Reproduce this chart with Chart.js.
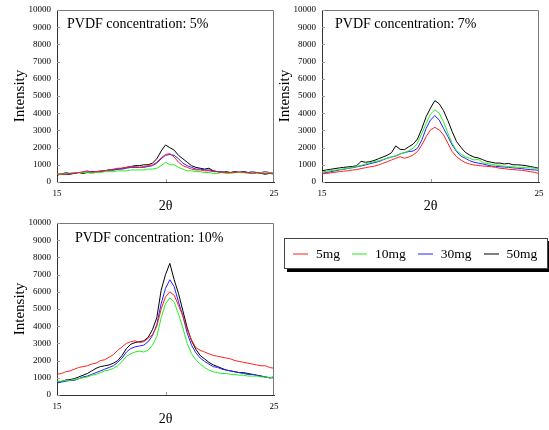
<!DOCTYPE html>
<html lang="en">

<head>
    <meta charset="UTF-8">
    <title>PVDF XRD</title>
    <script src="https://cdn.jsdelivr.net/npm/chart.js@4.4.1/dist/chart.umd.min.js"></script>
    <style>
        body { margin: 0; background: #fff; width: 549px; height: 430px; position: relative; overflow: hidden; }
        canvas { position: absolute; }
        #legend {
            position: absolute; left: 284px; top: 238px; width: 262px; height: 29px;
            border: 1px solid #444; box-shadow: 3px 3px 0 #000; background: #fff;
            font: 13.5px "Liberation Serif", serif; display: flex; align-items: center;
        }
        #legend .item { display: flex; align-items: center; margin-left: 12px; }
        #legend .item:first-child { margin-left: 8px; }
        #legend .swatch { width: 15px; height: 2px; margin-right: 8px; }
    </style>
</head>

<body>
    <canvas id="c5" width="282" height="216" style="left:0px;top:0px"></canvas>
    <canvas id="c7" width="282" height="216" style="left:265px;top:0px"></canvas>
    <canvas id="c10" width="282" height="216" style="left:0px;top:213px"></canvas>
    <div id="legend"></div>
</body>

<script>
    // 2theta positions (degrees)
    const theta = [15.0, 15.2, 15.4, 15.6, 15.8, 16.0, 16.2, 16.4, 16.6, 16.8,
        17.0, 17.2, 17.4, 17.6, 17.8, 18.0, 18.2, 18.4, 18.6, 18.8,
        19.0, 19.2, 19.4, 19.6, 19.8, 20.0, 20.2, 20.4, 20.6, 20.8,
        21.0, 21.2, 21.4, 21.6, 21.8, 22.0, 22.2, 22.4, 22.6, 22.8,
        23.0, 23.2, 23.4, 23.6, 23.8, 24.0, 24.2, 24.4, 24.6, 24.8, 25.0];

    const seriesNames = ["5mg", "10mg", "30mg", "50mg"];
    const seriesColors = ["#ff2020", "#22ee22", "#2222ff", "#000000"];
    const xTicks = [15, 20, 25];
    const xTickLabels = ["15", "", "25"];
    const yTicks = [0, 1000, 2000, 3000, 4000, 5000, 6000, 7000, 8000, 9000, 10000];

    // PVDF 5%
    const red5 = [450, 480, 450, 500, 520, 550, 600, 650, 560, 600,
        620, 650, 700, 750, 800, 800, 850, 900, 900, 850,
        900, 950, 1000, 1150, 1400, 1600, 1650, 1450, 1150, 950,
        850, 750, 700, 700, 650, 650, 600, 600, 550, 550,
        550, 550, 600, 550, 550, 500, 550, 500, 500, 500, 450];
    const green5 = [450, 450, 500, 500, 550, 550, 550, 550, 500, 550,
        550, 600, 600, 600, 650, 650, 650, 700, 700, 700,
        700, 750, 750, 800, 950, 1150, 1000, 1000, 850, 750,
        650, 650, 600, 600, 550, 550, 500, 500, 550, 500,
        500, 550, 550, 550, 500, 500, 500, 550, 500, 550, 500];
    const blue5 = [450, 450, 550, 500, 500, 550, 550, 600, 600, 600,
        650, 650, 700, 700, 750, 750, 800, 850, 850, 850,
        850, 900, 950, 1100, 1350, 1550, 1600, 1550, 1350, 1100,
        950, 850, 750, 750, 700, 700, 650, 600, 600, 550,
        550, 600, 550, 600, 550, 600, 550, 550, 600, 550, 500];
    const black5 = [400, 450, 450, 450, 500, 550, 500, 550, 600, 600,
        600, 650, 700, 700, 750, 800, 850, 900, 950, 950,
        1000, 1000, 1100, 1350, 1800, 2150, 2000, 1850, 1550, 1350,
        1150, 950, 850, 800, 750, 800, 650, 600, 550, 600,
        550, 600, 550, 600, 550, 500, 550, 500, 450, 500, 500];

    // PVDF 7%
    const red7 = [470, 500, 530, 570, 600, 630, 650, 700, 720, 780,
        830, 880, 920, 990, 1080, 1180, 1280, 1380, 1470, 1380,
        1450, 1570, 1770, 2150, 2640, 3030, 3180, 3030, 2740, 2250,
        1770, 1470, 1280, 1130, 1050, 990, 960, 930, 910, 890,
        850, 800, 780, 740, 720, 700, 680, 640, 600, 560, 500];
    const green7 = [580, 620, 660, 690, 720, 760, 800, 850, 900, 960,
        1050, 1120, 1180, 1240, 1300, 1380, 1450, 1530, 1630, 1700,
        1820, 1960, 2250, 2830, 3400, 3950, 4200, 4000, 3510, 2830,
        2250, 1820, 1630, 1470, 1380, 1280, 1320, 1130, 1080, 1030,
        990, 950, 920, 900, 880, 860, 850, 830, 820, 800, 780];
    const blue7 = [500, 550, 600, 650, 700, 740, 790, 830, 880, 930,
        990, 1060, 1120, 1180, 1280, 1380, 1450, 1510, 1630, 1710,
        1770, 1800, 1960, 2440, 3120, 3600, 3860, 3600, 3120, 2640,
        2150, 1770, 1510, 1380, 1240, 1150, 1100, 1050, 990, 930,
        910, 890, 870, 850, 820, 800, 780, 740, 720, 700, 680];
    const black7 = [650, 700, 740, 780, 820, 850, 880, 900, 950, 1200,
        1150, 1180, 1250, 1350, 1450, 1550, 1700, 2100, 1900, 1880,
        2050, 2200, 2500, 3100, 3800, 4300, 4730, 4550, 4150, 3570,
        2930, 2350, 2020, 1730, 1570, 1450, 1400, 1300, 1200, 1150,
        1100, 1100, 1050, 1080, 1000, 1000, 980, 950, 900, 850, 800];

    // PVDF 10%
    const red10 = [1200, 1250, 1350, 1400, 1500, 1600, 1650, 1700, 1800, 1850,
        2000, 2050, 2200, 2350, 2600, 2800, 3000, 3100, 3150, 3050,
        3100, 3300, 3500, 4000, 5000, 5700, 6000, 5800, 5200, 4600,
        3800, 3200, 2750, 2600, 2500, 2400, 2300, 2250, 2200, 2150,
        2100, 2000, 1950, 1900, 1850, 1800, 1750, 1700, 1700, 1600, 1550];
    const green10 = [800, 800, 850, 850, 900, 950, 1000, 1050, 1150, 1200,
        1300, 1400, 1450, 1550, 1700, 1950, 2250, 2400, 2500, 2550,
        2500, 2600, 2900, 3400, 4500, 5300, 5650, 5400, 4700, 3900,
        3000, 2400, 2050, 1800, 1600, 1450, 1350, 1300, 1250, 1250,
        1200, 1200, 1150, 1150, 1100, 1100, 1100, 1050, 1050, 1000, 1050];
    const blue10 = [700, 750, 800, 850, 850, 950, 1050, 1100, 1200, 1300,
        1400, 1500, 1600, 1700, 1900, 2150, 2500, 2700, 2800, 2850,
        2900, 3100, 3450, 4100, 5300, 6200, 6700, 6300, 5400, 4600,
        3600, 2900, 2450, 2150, 1950, 1800, 1650, 1600, 1500, 1450,
        1400, 1350, 1300, 1250, 1200, 1200, 1150, 1100, 1050, 1000, 1000];
    const black10 = [750, 780, 870, 900, 950, 1050, 1150, 1250, 1400, 1550,
        1650, 1700, 1750, 1850, 2000, 2300, 2700, 2950, 3050, 3100,
        3150, 3350, 3800, 4500, 6100, 7000, 7650, 6700, 5900, 4900,
        3900, 3150, 2650, 2300, 2100, 1900, 1750, 1650, 1550, 1450,
        1400, 1350, 1300, 1300, 1250, 1200, 1150, 1100, 1050, 1000, 1050];

    const serifFont = "Liberation Serif";

    // box around plot, inner tick marks and the panel caption
    const panelPlugin = {
        id: "panel",
        afterDraw(chart, args, opts) {
            const { ctx, chartArea: a, scales } = chart;
            ctx.save();
            ctx.strokeStyle = "#777";
            ctx.lineWidth = 1;
            ctx.beginPath();
            ctx.moveTo(a.left, a.top + 0.5);
            ctx.lineTo(a.right - 0.5, a.top + 0.5);
            ctx.lineTo(a.right - 0.5, a.bottom);
            ctx.stroke();

            ctx.strokeStyle = "#999";
            ctx.beginPath();
            yTicks.forEach(v => {
                const y = Math.round(scales.y.getPixelForValue(v)) + 0.5;
                ctx.moveTo(a.left, y);
                ctx.lineTo(a.left + 3, y);
            });
            const xm = Math.round(scales.x.getPixelForValue(xTicks[1])) + 0.5;
            ctx.moveTo(xm, a.bottom);
            ctx.lineTo(xm, a.bottom - 3);
            ctx.stroke();

            ctx.fillStyle = "#000";
            ctx.font = "14px '" + serifFont + "'";
            ctx.textBaseline = "middle";
            ctx.fillText(opts.text, a.left + opts.dx, a.top + opts.dy);
            ctx.restore();
        }
    };

    function makePanel(id, caption, dx, dy, values) {
        const datasets = values.map((vals, i) => ({
            label: seriesNames[i],
            data: theta.map((t, k) => ({ x: t, y: vals[k] })),
            borderColor: seriesColors[i],
            borderWidth: 1,
            pointRadius: 0,
            tension: 0
        }));

        return new Chart(document.getElementById(id), {
            type: "line",
            data: { datasets: datasets },
            plugins: [panelPlugin],
            options: {
                responsive: false,
                animation: false,
                devicePixelRatio: 1,
                layout: { padding: { left: 0, right: 8, top: 10, bottom: 0 } },
                plugins: {
                    legend: { display: false },
                    tooltip: { enabled: false },
                    panel: { text: caption, dx: dx, dy: dy }
                },
                scales: {
                    x: {
                        type: "linear",
                        min: 15,
                        max: 25,
                        afterBuildTicks: s => { s.ticks = xTicks.map(v => ({ value: v })); },
                        afterFit: s => {
                            s.height = 34;
                            s.paddingLeft = 0;
                            s.paddingRight = 0;
                        },
                        ticks: {
                            callback: (v, i) => xTickLabels[i],
                            maxRotation: 0,
                            autoSkip: false,
                            padding: 6,
                            color: "#000",
                            font: { family: serifFont, size: 9 }
                        },
                        grid: { drawOnChartArea: false, drawTicks: false },
                        border: { color: "#333", width: 1 },
                        title: {
                            display: true,
                            text: "2θ",
                            color: "#000",
                            font: { family: serifFont, size: 14 },
                            padding: { top: 0, bottom: 1 }
                        }
                    },
                    y: {
                        min: 0,
                        max: 10000,
                        afterBuildTicks: s => { s.ticks = yTicks.map(v => ({ value: v })); },
                        afterFit: s => {
                            s.width = 57;
                            s.paddingTop = 0;
                            s.paddingBottom = 0;
                        },
                        ticks: {
                            callback: v => String(v),
                            autoSkip: false,
                            padding: 6,
                            color: "#000",
                            font: { family: serifFont, size: 9 }
                        },
                        grid: { drawOnChartArea: false, drawTicks: false },
                        border: { color: "#333", width: 1 },
                        title: {
                            display: true,
                            text: "Intensity",
                            color: "#000",
                            font: { family: serifFont, size: 15 },
                            padding: { top: 11, bottom: 0 }
                        }
                    }
                }
            }
        });
    }

    makePanel("c5", "PVDF concentration: 5%", 10, 14, [red5, green5, blue5, black5]);
    makePanel("c7", "PVDF concentration: 7%", 13, 14, [red7, green7, blue7, black7]);
    makePanel("c10", "PVDF concentration: 10%", 18, 15, [red10, green10, blue10, black10]);

    // legend box
    const legend = document.getElementById("legend");
    seriesNames.forEach((name, i) => {
        const item = document.createElement("span");
        item.className = "item";
        const sw = document.createElement("span");
        sw.className = "swatch";
        sw.style.background = seriesColors[i];
        sw.style.opacity = "0.5";
        item.appendChild(sw);
        item.appendChild(document.createTextNode(name));
        legend.appendChild(item);
    });
</script>

</html>
